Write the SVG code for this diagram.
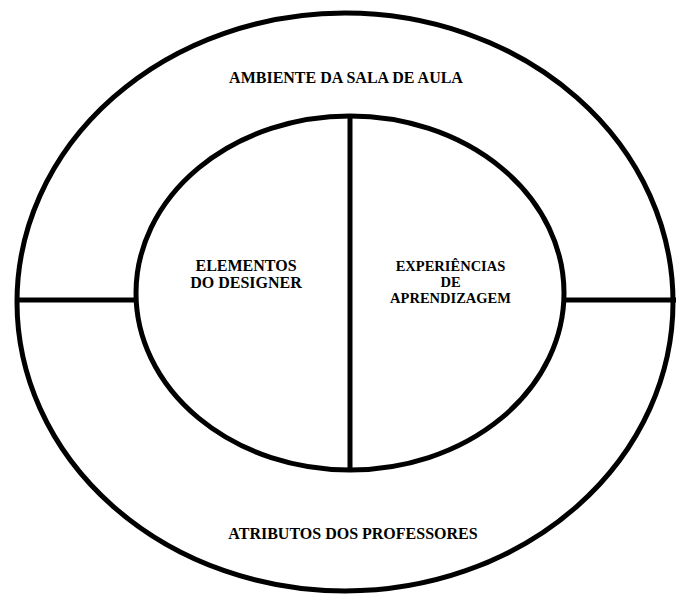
<svg xmlns="http://www.w3.org/2000/svg" width="676" height="599" viewBox="0 0 676 599">
<style>
.shape{fill:none;stroke:#000;stroke-width:5}
.lbl{font-family:"Liberation Serif","Times New Roman",serif;font-weight:bold;font-size:16px;fill:#000;text-anchor:middle}
.sm{font-size:14.5px}
</style>
<rect width="676" height="599" fill="#fff"/>
<g id="outer">
<ellipse class="shape" cx="345" cy="302" rx="328" ry="289"/>
<text class="lbl" x="346" y="83">AMBIENTE DA SALA DE AULA</text>
<text class="lbl" x="353" y="539">ATRIBUTOS DOS PROFESSORES</text>
</g>
<g id="inner">
<ellipse class="shape" cx="350" cy="293" rx="214" ry="177"/>
</g>
<g id="connectors">
<line class="shape" x1="350" y1="116" x2="350" y2="470"/>
<line class="shape" x1="17" y1="300" x2="136" y2="300"/>
<line class="shape" x1="564" y1="300" x2="676" y2="300"/>
</g>
<g id="left-half">
<text class="lbl" x="246" y="271">ELEMENTOS</text>
<text class="lbl" x="246" y="288">DO DESIGNER</text>
</g>
<g id="right-half">
<text class="lbl sm" x="450.5" y="271">EXPERIÊNCIAS</text>
<text class="lbl sm" x="450.5" y="287">DE</text>
<text class="lbl sm" x="450.5" y="303">APRENDIZAGEM</text>
</g>
</svg>
